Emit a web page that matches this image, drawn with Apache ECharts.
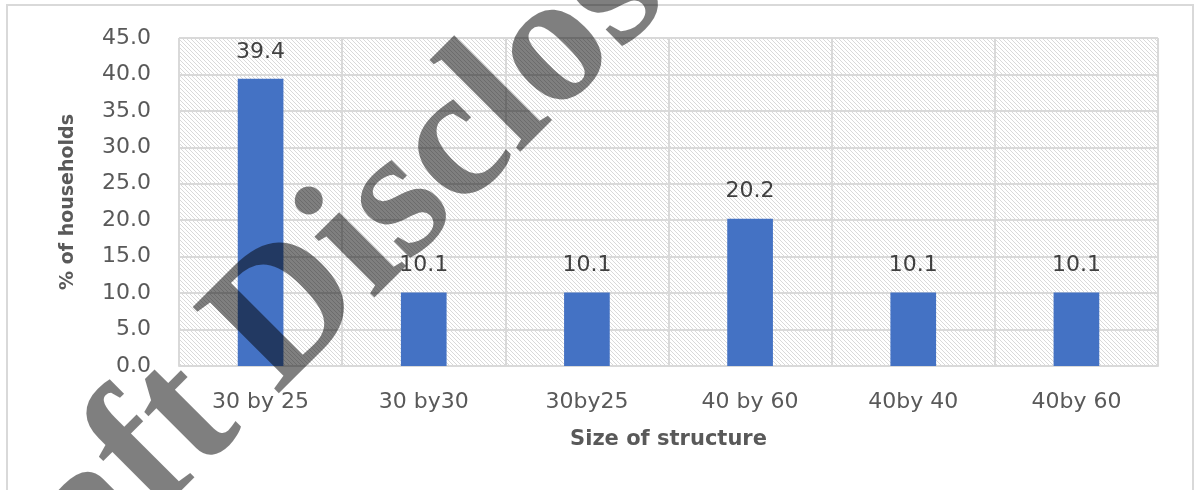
<!DOCTYPE html>
<html>
<head>
<meta charset="utf-8">
<script src="https://cdn.jsdelivr.net/npm/echarts@6/dist/echarts.min.js"></script>
<style>
  html, body { margin: 0; padding: 0; background: #ffffff; }
  #chart { width: 1199px; height: 490px; }
</style>
</head>
<body>
<div id="chart"></div>
<script>
// Share of households by size of structure
const categories = ['30 by 25', '30 by30', '30by25', '40 by 60', '40by 40', '40by 60'];
const shares = [39.4, 10.1, 10.1, 20.2, 10.1, 10.1];
const yMin = 0;
const yMax = 45;
const yStep = 5;
const yTitle = '% of households';
const xTitle = 'Size of structure';
const watermark = 'Draft Disclosure';

// Light diagonal hatch used as the plot background
function makeHatch() {
  const c = document.createElement('canvas');
  c.width = 8; c.height = 8;
  const g = c.getContext('2d');
  g.fillStyle = '#ffffff';
  g.fillRect(0, 0, 8, 8);
  g.fillStyle = '#d9d9d9';
  for (let y = 0; y < 8; y++) {
    for (let x = 0; x < 8; x++) {
      if (((x - y) % 4 + 4) % 4 === 0) g.fillRect(x, y, 1, 1);
    }
  }
  return c;
}

const gridColor = '#d9d9d9';
const labelColor = '#595959';
const baseFont = 'DejaVu Sans';

const chart = echarts.init(document.getElementById('chart'), null, { renderer: 'canvas' });
chart.setOption({
  animation: false,
  backgroundColor: '#ffffff',
  grid: {
    left: 179, top: 38, right: 41, bottom: 124,
    show: true,
    borderWidth: 0,
    backgroundColor: { image: makeHatch(), repeat: 'repeat' }
  },
  xAxis: {
    type: 'category',
    data: categories,
    boundaryGap: true,
    name: xTitle,
    nameLocation: 'middle',
    nameGap: 63,
    nameTextStyle: { fontFamily: baseFont, fontWeight: 'bold', fontSize: 21, color: labelColor },
    axisLine: { show: true, lineStyle: { color: gridColor, width: 2 } },
    axisTick: { show: false },
    axisLabel: { fontFamily: baseFont, fontSize: 22, color: labelColor, margin: 25, lineHeight: 22 },
    splitLine: { show: true, lineStyle: { color: gridColor, width: 2 } }
  },
  yAxis: {
    type: 'value',
    min: yMin, max: yMax, interval: yStep,
    name: yTitle,
    nameLocation: 'middle',
    nameGap: 101,
    nameTextStyle: { fontFamily: baseFont, fontWeight: 'bold', fontSize: 19, color: labelColor },
    axisLine: { show: false },
    axisTick: { show: false },
    axisLabel: {
      fontFamily: baseFont, fontSize: 22, color: labelColor, margin: 28,
      formatter: v => v.toFixed(1)
    },
    splitLine: { show: true, lineStyle: { color: gridColor, width: 2 } }
  },
  series: [{
    type: 'bar',
    data: shares,
    barWidth: '28%',
    itemStyle: { color: '#4472c4' },
    label: {
      show: true,
      position: 'top',
      distance: 16,
      fontFamily: baseFont,
      fontSize: 22,
      color: '#404040',
      formatter: p => p.value.toFixed(1)
    }
  }],
  graphic: [
    {
      type: 'rect',
      shape: { x: 7, y: 5, width: 1186, height: 500 },
      style: { fill: 'none', stroke: gridColor, lineWidth: 2 },
      silent: true
    },
    {
      // diagonal watermark across the page
      type: 'text',
      x: -97, y: 701,
      rotation: Math.PI / 4,
      z: 100,
      silent: true,
      style: {
        text: watermark,
        font: 'bold 186px "Liberation Serif"',
        fill: 'rgba(0,0,0,0.5)',
        align: 'left',
        verticalAlign: 'middle'
      }
    }
  ]
});
</script>
</body>
</html>
